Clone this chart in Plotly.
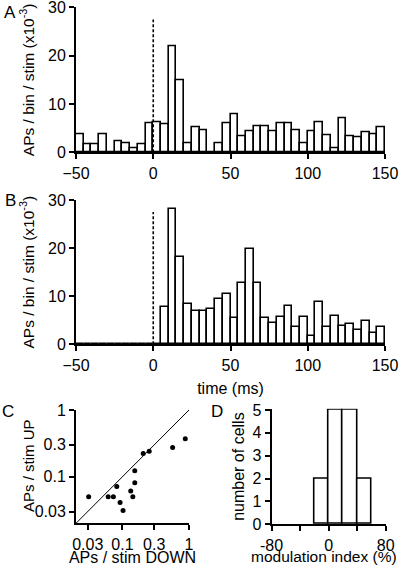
import numpy as np
import plotly.graph_objects as go

# ---------------- data ----------------
bin_width = 5
bin_starts = list(range(-50, 150, 5))   # 40 bins of 5 ms

psth_A = [3.7, 1.7, 1.7, 3.7, 0.0, 2.3, 1.9, 0.9, 1.7, 6.1,
          6.3, 5.7, 21.9, 14.9, 1.8, 5.2, 4.5, 0.0, 1.8, 6.1,
          7.9, 3.4, 4.4, 5.3, 5.4, 4.4, 6.1, 6.1, 4.5, 1.9,
          4.4, 6.2, 3.5, 0.8, 7.0, 3.4, 3.2, 4.1, 3.7, 5.2]

psth_B = [0, 0, 0, 0, 0, 0, 0, 0, 0, 0,
          0.0, 7.7, 28.1, 18.1, 8.4, 6.9, 7.0, 7.3, 9.5, 10.4,
          5.5, 12.8, 19.9, 12.7, 5.5, 4.4, 5.7, 8.0, 3.7, 5.7,
          1.8, 8.8, 3.7, 5.8, 3.9, 4.2, 3.0, 4.8, 2.3, 3.5]

stim_time = 0
stim_line_top = 27.5

aps_down = [0.031, 0.061, 0.073, 0.082, 0.092, 0.102, 0.133, 0.143,
            0.153, 0.153, 0.205, 0.252, 0.567, 0.879]
aps_up = [0.050, 0.050, 0.050, 0.0715, 0.041, 0.031, 0.061, 0.050,
          0.123, 0.081, 0.222, 0.241, 0.274, 0.370]
unity_range = [0.02, 1]

mod_bin_starts = [-20, 0, 20, 40]
mod_counts = [2, 5, 5, 2]
mod_bin_width = 20

time_ticks = [-50, 0, 50, 100, 150]
psth_yticks = [0, 10, 20, 30]
log_ticks = [0.03, 0.1, 0.3, 1]
log_ticktext = ["0.03", "0.1", "0.3", "1"]
mod_ticks = [-80, -40, 0, 40, 80]
mod_ticktext = ["-80", "", "0", "", "80"]
count_ticks = [0, 1, 2, 3, 4, 5]

# ---------------- figure ----------------
W, H = 400, 566
FONT = "Liberation Sans, Arial, Helvetica, sans-serif"
FS = 16

def px_x(p):
    return p / W

def px_y(p):
    return 1 - p / H

bar_style = dict(marker=dict(color="white", line=dict(color="black", width=1.6)),
                 cliponaxis=False)

fig = go.Figure()

centers = [s + bin_width / 2 for s in bin_starts]
fig.add_trace(go.Bar(x=centers, y=psth_A, width=bin_width, xaxis="x", yaxis="y",
                     **bar_style))
fig.add_trace(go.Scatter(x=[stim_time, stim_time], y=[0, stim_line_top], mode="lines",
                         line=dict(color="black", width=1.6, dash="3px,2px"),
                         xaxis="x", yaxis="y"))
fig.add_trace(go.Bar(x=centers, y=psth_B, width=bin_width, xaxis="x2", yaxis="y2",
                     **bar_style))
fig.add_trace(go.Scatter(x=[stim_time, stim_time], y=[0, stim_line_top], mode="lines",
                         line=dict(color="black", width=1.6, dash="3px,2px"),
                         xaxis="x2", yaxis="y2"))
fig.add_trace(go.Scatter(x=unity_range, y=unity_range, mode="lines",
                         line=dict(color="black", width=1), xaxis="x3", yaxis="y3"))
fig.add_trace(go.Scatter(x=aps_down, y=aps_up, mode="markers",
                         marker=dict(color="black", size=5), xaxis="x3", yaxis="y3"))
mod_centers = [s + mod_bin_width / 2 for s in mod_bin_starts]
fig.add_trace(go.Bar(x=mod_centers, y=mod_counts, width=mod_bin_width, xaxis="x4",
                     yaxis="y4", **bar_style))

axis_common = dict(showline=True, linecolor="black", linewidth=2, ticks="outside",
                   ticklen=5, tickwidth=2, tickcolor="black", showgrid=False,
                   zeroline=False, tickfont=dict(family=FONT, size=FS, color="black"),
                   fixedrange=True, automargin=False, ticklabeloverflow="allow")
title_font = dict(family=FONT, size=FS, color="black")
ytitle_font = dict(family=FONT, size=15.5, color="black")

dom_x_AB = [px_x(76), px_x(385)]
count_top = 5.05
fig.update_layout(
    width=W, height=H, margin=dict(l=0, r=0, t=0, b=0, autoexpand=False),
    paper_bgcolor="white", plot_bgcolor="white", showlegend=False, bargap=0,
    font=dict(family=FONT, size=FS, color="black"),
    xaxis=dict(domain=dom_x_AB, range=[-50, 150], tickvals=time_ticks, anchor="y",
               **axis_common),
    yaxis=dict(domain=[px_y(152.3), px_y(7.3)], range=[0, 30], tickvals=psth_yticks,
               anchor="x",
               title=dict(text="APs / bin / stim (x10<sup>-3</sup>)", font=ytitle_font, standoff=10),
               **axis_common),
    xaxis2=dict(domain=dom_x_AB, range=[-50, 150], tickvals=time_ticks, anchor="y2",
                title=dict(text="time (ms)", font=title_font, standoff=10),
                **axis_common),
    yaxis2=dict(domain=[px_y(344.3), px_y(200)], range=[0, 30], tickvals=psth_yticks,
                anchor="x2",
                title=dict(text="APs / bin / stim (x10<sup>-3</sup>)", font=ytitle_font, standoff=10),
                **axis_common),
    xaxis3=dict(domain=[px_x(76), px_x(189)], type="log",
                range=[np.log10(unity_range[0]), np.log10(unity_range[1])],
                tickvals=log_ticks, ticktext=log_ticktext, anchor="y3",
                title=dict(text="APs / stim DOWN", font=title_font, standoff=2),
                **axis_common),
    yaxis3=dict(domain=[px_y(523.3), px_y(410)], type="log",
                range=[np.log10(unity_range[0]), np.log10(unity_range[1])],
                tickvals=log_ticks, ticktext=log_ticktext, anchor="x3",
                **axis_common),
    xaxis4=dict(domain=[px_x(271.5), px_x(385.7)], range=[-80, 80], tickvals=mod_ticks,
                ticktext=mod_ticktext, anchor="y4", **axis_common),
    yaxis4=dict(domain=[px_y(524.3), px_y(524.3 - 22.86 * count_top)],
                range=[0, count_top], tickvals=count_ticks, anchor="x4",
                title=dict(text="number of cells", font=title_font, standoff=4),
                **axis_common),
)

fig.add_annotation(text="APs / stim UP", x=px_x(28), y=px_y(466), xref="paper",
                   yref="paper", showarrow=False, textangle=-90, xanchor="center",
                   yanchor="middle", font=dict(family=FONT, size=15, color="black"))
fig.add_annotation(text="modulation index (%)", x=px_x(324), y=px_y(556), xref="paper",
                   yref="paper", showarrow=False, xanchor="center", yanchor="middle",
                   font=dict(family=FONT, size=15.5, color="black"))

for letter, x, y in [("A", 10, 12), ("B", 10, 200), ("C", 8, 411), ("D", 217, 411)]:
    fig.add_annotation(text=letter, x=px_x(x), y=px_y(y), xref="paper", yref="paper",
                       showarrow=False, xanchor="center", yanchor="middle",
                       font=dict(family=FONT, size=17, color="black"))

fig.write_html("out.html", config={"displayModeBar": False},
               post_script="document.body.style.margin='0';document.body.style.overflow='hidden';")
